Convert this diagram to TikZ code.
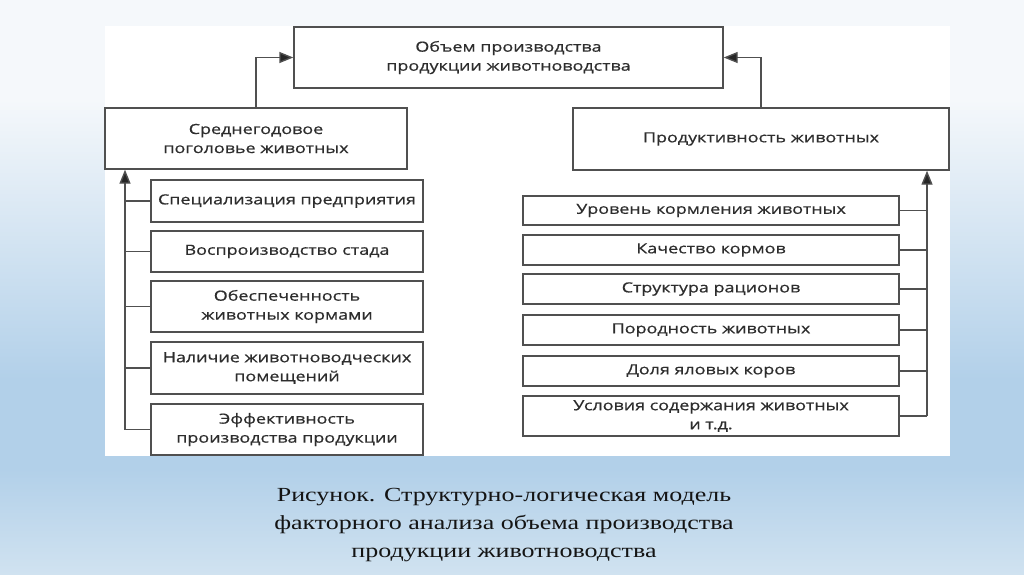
\documentclass[tikz,border=0pt]{standalone}
\usepackage{fontspec}
\usepackage{tikz}
\usetikzlibrary{arrows.meta}
\setsansfont{Open Sans}[FakeStretch=1.28, FakeBold=0.6]
\newfontfamily\capfont{Liberation Serif}[FakeStretch=1.3]
\definecolor{bgtop}{RGB}{245,248,251}
\definecolor{bgmid}{RGB}{178,208,233}
\definecolor{bgbot}{RGB}{208,226,240}
\definecolor{ink}{RGB}{45,45,45}
\definecolor{edge}{RGB}{80,80,80}
\tikzstyle{box} = [rectangle, draw=edge, line width=1.4pt, fill=white, text=ink, align=center, font=\sffamily\fontsize{14}{19}\selectfont, inner sep=2pt]
\tikzstyle{arrow} = [draw=edge, line width=1.4pt, -{Triangle[length=14pt,width=11pt,fill=black!85]}]
\tikzstyle{line} = [draw=edge, line width=1.4pt]

\begin{document}
\begin{tikzpicture}[x=1pt,y=-1pt]
        % background
        \useasboundingbox (0,0) rectangle (1024,574);
        \fill[bgtop] (0,0) rectangle (1024,100);
        \shade[top color=bgtop, bottom color=bgmid] (0,99) rectangle (1024,380);
        \fill[bgmid] (0,379) rectangle (1024,470);
        \shade[top color=bgmid, bottom color=bgbot] (0,469) rectangle (1024,574);
        \fill[white] (105,26) rectangle (950,456);

        \node (total) at (508.5, 57.5) [box, minimum width=429pt, minimum height=61pt] {Объем производства\\продукции животноводства};
        \node (herd) at (256, 138.5) [box, minimum width=302pt, minimum height=61pt] {Среднегодовое\\поголовье животных};
        \node (yield) at (761, 139) [box, minimum width=376pt, minimum height=62pt] {Продуктивность животных};

        \tikzstyle{lbox} = [box, minimum width=272pt]
        \node (l1) at (287, 201)   [lbox, minimum height=42pt] {Специализация предприятия};
        \node (l2) at (287, 251.5) [lbox, minimum height=41pt] {Воспроизводство стада};
        \node (l3) at (287, 306.5) [lbox, minimum height=51pt] {Обеспеченность\\животных кормами};
        \node (l4) at (287, 368)   [lbox, minimum height=52pt] {Наличие животноводческих\\помещений};
        \node (l5) at (287, 429.5) [lbox, minimum height=51pt] {Эффективность\\производства продукции};

        \tikzstyle{rbox} = [box, minimum width=376pt, minimum height=30pt]
        \node (r1) at (711, 210.5) [rbox, minimum height=29pt] {Уровень кормления животных};
        \node (r2) at (711, 250) [rbox] {Качество кормов};
        \node (r3) at (711, 289) [rbox] {Структура рационов};
        \node (r4) at (711, 330) [rbox] {Породность животных};
        \node (r5) at (711, 371) [rbox] {Доля яловых коров};
        \node (r6) at (711, 416) [rbox, minimum height=40pt] {Условия содержания животных\\и т.д.};

        \coordinate (lbus) at (125, 0);
        \coordinate (rbus) at (927, 0);

        \draw[arrow] (herd.north) |- (total.west);
        \draw[arrow] (yield.north) |- (total.east);
        \draw[arrow] (lbus |- l5.west) -- (lbus |- herd.south);
        \draw[arrow] (rbus |- r6.east) -- (rbus |- yield.south);
        \foreach \i in {1,...,5}{
                \draw[line] (lbus |- l\i.west) -- (l\i.west);
            }
        \foreach \i in {1,...,6}{
                \draw[line] (rbus |- r\i.east) -- (r\i.east);
            }

        \node (caption) at (504, 525) [align=center, text=black!92, font=\capfont\fontsize{20}{28}\selectfont] {Рисунок. Структурно-логическая модель\\факторного анализа объема производства\\продукции животноводства};
    \end{tikzpicture}
\end{document}
